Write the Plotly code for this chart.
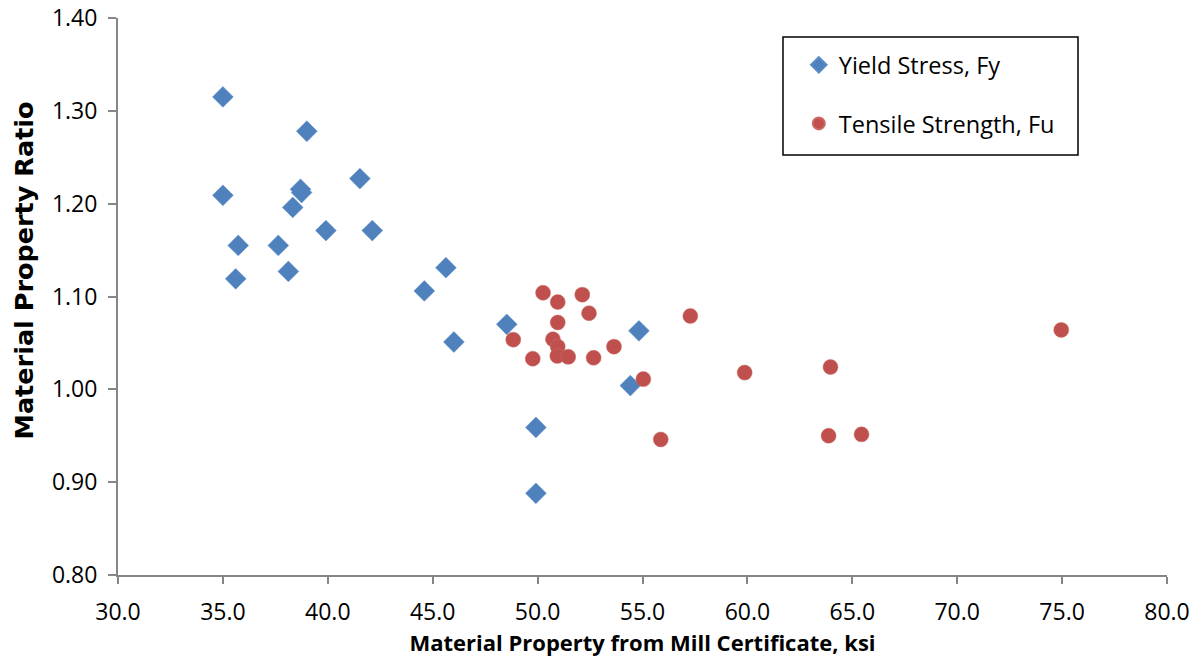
import plotly.graph_objects as go

# Yield Stress, Fy
fy_x = [35.0, 39.0, 41.53, 35.0, 38.7, 38.75, 38.33, 39.91, 42.12, 35.73, 37.64,
        35.61, 38.12, 45.63, 44.6, 48.53, 46.01, 54.83, 54.42, 49.92, 49.92]
fy_y = [1.315, 1.278, 1.227, 1.209, 1.2155, 1.212, 1.196, 1.171, 1.171, 1.155, 1.155,
        1.119, 1.127, 1.131, 1.106, 1.070, 1.051, 1.063, 1.004, 0.959, 0.888]

# Tensile Strength, Fu
fu_x = [50.26, 50.96, 52.13, 52.45, 50.96, 48.84, 50.73, 50.96, 50.94, 51.46, 49.77,
        52.67, 53.64, 57.28, 55.04, 55.87, 59.87, 63.96, 63.87, 65.44, 74.96]
fu_y = [1.104, 1.094, 1.102, 1.082, 1.072, 1.0535, 1.054, 1.046, 1.036, 1.035, 1.033,
        1.034, 1.046, 1.079, 1.011, 0.946, 1.018, 1.024, 0.950, 0.9515, 1.064]

x_ticks = [30, 35, 40, 45, 50, 55, 60, 65, 70, 75, 80]
y_ticks = [0.80, 0.90, 1.00, 1.10, 1.20, 1.30, 1.40]

FONT = "Open Sans"
AXIS_COLOR = "#868686"

fig = go.Figure()
fig.add_trace(go.Scatter(
    x=fy_x, y=fy_y, mode="markers", name="Yield Stress, Fy", legendgroup="a",
    marker=dict(symbol="diamond", size=16, color="#4F81BD",
                line=dict(width=0.5, color="#5B8BC7")),
))
fig.add_trace(go.Scatter(
    x=fu_x, y=fu_y, mode="markers", name="Tensile Strength, Fu", legendgroup="b",
    marker=dict(symbol="circle", size=15, color="#C0504D",
                line=dict(width=0.5, color="#CB6A67")),
))

fig.update_layout(
    width=1200, height=668,
    margin=dict(l=118, r=33, t=18, b=93),
    paper_bgcolor="white", plot_bgcolor="white",
    font=dict(family=FONT, size=23, color="black"),
    showlegend=True,
    legend=dict(
        x=0.649, y=0.955, xanchor="left", yanchor="top",
        bgcolor="rgba(0,0,0,0)", borderwidth=0,
        font=dict(family=FONT, size=23.5),
        tracegroupgap=25, itemsizing="constant",
    ),
    shapes=[dict(type="rect", xref="paper", yref="paper",
                 x0=(783 - 118) / 1049, x1=(1078 - 118) / 1049,
                 y0=(575 - 155) / 557, y1=(575 - 37) / 557,
                 line=dict(color="black", width=1.5), fillcolor="white",
                 layer="below")],
    annotations=[dict(
        text="<b>Material Property Ratio</b>", textangle=-90,
        xref="paper", yref="paper", x=0, y=0.5, xanchor="center", yanchor="middle",
        xshift=-95, yshift=26, showarrow=False,
        font=dict(family="DejaVu Sans", size=25.5, color="black"),
    )],
)

fig.update_xaxes(
    range=[30, 80], tickvals=x_ticks, ticktext=[f"{v:.1f}" for v in x_ticks],
    showgrid=False, zeroline=False, showline=True, linecolor=AXIS_COLOR, linewidth=2,
    ticks="outside", ticklen=7, tickwidth=2, tickcolor=AXIS_COLOR,
    tickfont=dict(family=FONT, size=23), automargin=False, ticklabelstandoff=8,
    title=dict(text="<b>Material Property from Mill Certificate, ksi</b>",
               font=dict(family=FONT, size=22), standoff=4),
)
fig.update_yaxes(
    range=[0.80, 1.40], tickvals=y_ticks, ticktext=[f"{v:.2f}" for v in y_ticks],
    showgrid=False, zeroline=False, showline=True, linecolor=AXIS_COLOR, linewidth=2,
    ticks="outside", ticklen=8, tickwidth=2, tickcolor=AXIS_COLOR,
    tickfont=dict(family=FONT, size=23), automargin=False, ticklabelstandoff=6,
)

fig.write_html("out.html", config={"displayModeBar": False},
               post_script="document.body.style.margin='0';")
